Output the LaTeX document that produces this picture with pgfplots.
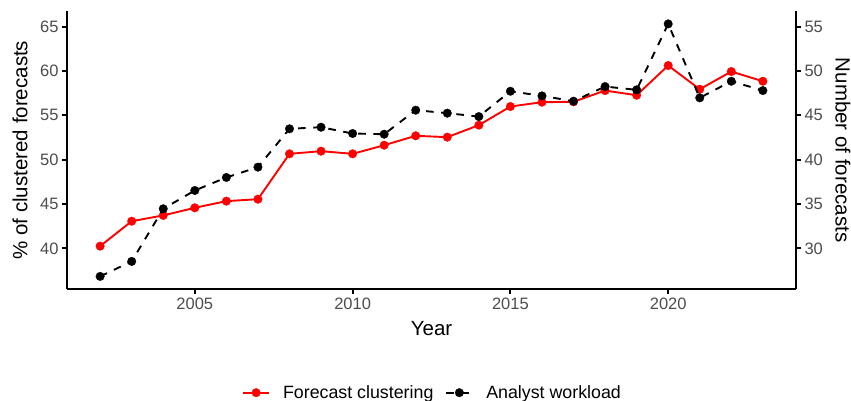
\documentclass[border=0pt]{standalone}
\usepackage{fontspec}
\setmainfont{Liberation Sans}
\usepackage{pgfplots}
\pgfplotsset{compat=1.18}
\definecolor{ticklab}{HTML}{4D4D4D}
\definecolor{redline}{HTML}{FF0000}
\begin{document}
\begin{tikzpicture}
\useasboundingbox (0,0) rectangle (851bp,401bp);
\pgfplotsset{
  common/.style={
    at={(67bp,112bp)}, anchor=south west,
    width=729bp, height=277.7bp, scale only axis,
    xmin=2000.95, xmax=2024.05,
    axis line style={-, line width=1.9bp, black},
    tick align=outside, major tick length=5bp,
    tick style={line width=1.9bp, black},
    ticklabel style={font=\fontsize{16.5bp}{18bp}\selectfont, text=ticklab},
    /pgf/number format/assume math mode=true,
    /pgf/number format/1000 sep={},
    clip=false,
  }
}
\begin{axis}[common,
  axis x line*=bottom, axis y line*=left,
  ymin=35.43, ymax=66.72,
  ytick={40,45,50,55,60,65},
  xtick={2005,2010,2015,2020},
  xlabel={Year}, ylabel={\% of clustered forecasts},
  every axis x label/.style={at={([yshift=-40bp]axis description cs:0.5,0)}, anchor=center, font=\fontsize{20.5bp}{22bp}\selectfont},
  every axis y label/.style={at={([xshift=-47bp]axis description cs:0,0.5)}, anchor=center, rotate=90, font=\fontsize{20.5bp}{22bp}\selectfont},
]
\addplot[redline, line width=1.9bp, mark=*, mark size=4.3bp, mark options={solid, line width=0.3bp}] coordinates {
(2002,40.26) (2003,43.07) (2004,43.72) (2005,44.58) (2006,45.33) (2007,45.55)
(2008,50.66) (2009,50.96) (2010,50.66) (2011,51.63) (2012,52.69) (2013,52.54)
(2014,53.89) (2015,55.99) (2016,56.48) (2017,56.52) (2018,57.79) (2019,57.26)
(2020,60.61) (2021,57.94) (2022,59.93) (2023,58.84)
};
\end{axis}
\begin{axis}[common,
  hide x axis, axis y line*=right,
  ymin=25.43, ymax=56.72,
  ytick={30,35,40,45,50,55},
  ylabel={Number of forecasts},
  every axis y label/.style={at={([xshift=47bp]axis description cs:1,0.5)}, anchor=center, rotate=-90, font=\fontsize{20.5bp}{22bp}\selectfont},
  legend columns=2,
  legend image code/.code={\draw[#1, mark repeat=2, mark phase=2] plot coordinates {(0bp,0bp) (13bp,0bp) (26bp,0bp)};},
  legend style={at={(axis description cs:0.5014,-0.3734)}, anchor=center, draw=none, fill=none, inner sep=0pt,
    font=\fontsize{17.8bp}{19bp}\selectfont,
    /tikz/every odd column/.style={column sep=11bp},
    /tikz/every even column/.style={column sep=10bp}},
]
\addlegendimage{redline, line width=1.9bp, mark=*, mark size=4.3bp, mark options={solid, line width=0.3bp}}
\addlegendentry{Forecast clustering}
\addplot[black, line width=1.9bp, dash pattern=on 7.6bp off 7.6bp, mark=*, mark size=4.3bp, mark options={solid, line width=0.3bp}] coordinates {
(2002,26.85) (2003,28.54) (2004,34.47) (2005,36.53) (2006,38.00) (2007,39.16)
(2008,43.48) (2009,43.66) (2010,42.95) (2011,42.87) (2012,45.58) (2013,45.24)
(2014,44.86) (2015,47.71) (2016,47.19) (2017,46.59) (2018,48.24) (2019,47.87)
(2020,55.30) (2021,46.97) (2022,48.84) (2023,47.79)
};
\addlegendentry{Analyst workload}
\end{axis}
\end{tikzpicture}
\end{document}
